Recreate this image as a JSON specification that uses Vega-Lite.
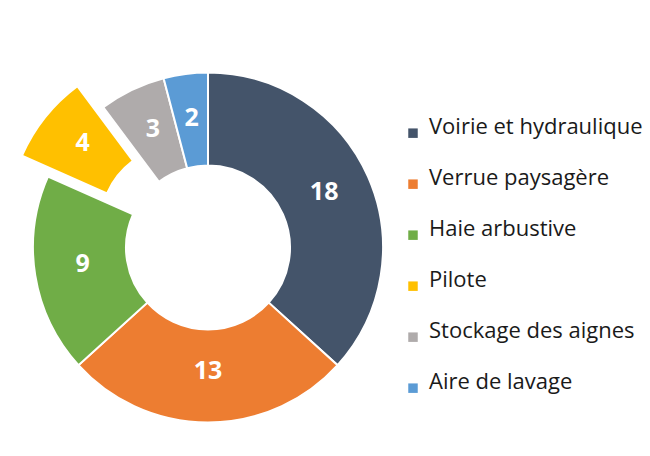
{
  "$schema": "https://vega.github.io/schema/vega-lite/v6.json",
  "width": 416,
  "height": 417,
  "padding": {"left": 0, "top": 39, "right": 0, "bottom": 0},
  "autosize": {"type": "pad"},
  "background": "white",
  "config": {"view": {"stroke": null}},
  "data": {
    "values": [
      {"cat": "Voirie et hydraulique", "val": 18, "ord": 1},
      {"cat": "Verrue paysagère", "val": 13, "ord": 2},
      {"cat": "Haie arbustive", "val": 9, "ord": 3},
      {"cat": "Pilote", "val": 4, "ord": 4},
      {"cat": "Stockage des aignes", "val": 3, "ord": 5},
      {"cat": "Aire de lavage", "val": 2, "ord": 6}
    ]
  },
  "encoding": {
    "theta": {"field": "val", "type": "quantitative", "stack": true},
    "order": {"field": "ord", "type": "quantitative"},
    "detail": {"field": "cat", "type": "nominal"}
  },
  "layer": [
    {
      "mark": {"type": "arc", "radius": 175, "radius2": 82, "stroke": "white", "strokeWidth": 2},
      "encoding": {
        "color": {
          "field": "cat",
          "type": "nominal",
          "scale": {
            "domain": ["Voirie et hydraulique", "Verrue paysagère", "Haie arbustive", "Pilote", "Stockage des aignes", "Aire de lavage"],
            "range": ["#44546A", "#ED7D31", "#70AD47", "#FFC000", "#AFABAB", "#5B9BD5"]
          },
          "legend": {
            "orient": "none",
            "legendX": 402,
            "legendY": 77,
            "title": null,
            "symbolType": "M-1,0.3H1V2.3H-1Z",
            "symbolSize": 90,
            "symbolStrokeWidth": 0,
            "labelFont": "Open Sans",
            "labelFontSize": 22,
            "labelColor": "#1a1a1a",
            "labelOffset": 5,
            "rowPadding": 29,
            "labelLimit": 400
          }
        },
        "opacity": {"condition": {"test": "datum.cat === 'Pilote'", "value": 0}, "value": 1}
      }
    },
    {
      "mark": {"type": "arc", "radius": 175, "radius2": 82, "stroke": "white", "strokeWidth": 2, "xOffset": -26, "yOffset": -21},
      "encoding": {
        "color": {
          "field": "cat",
          "type": "nominal",
          "scale": {
            "domain": ["Voirie et hydraulique", "Verrue paysagère", "Haie arbustive", "Pilote", "Stockage des aignes", "Aire de lavage"],
            "range": ["#44546A", "#ED7D31", "#70AD47", "#FFC000", "#AFABAB", "#5B9BD5"]
          },
          "legend": null
        },
        "opacity": {"condition": {"test": "datum.cat === 'Pilote'", "value": 1}, "value": 0}
      }
    },
    {
      "mark": {"type": "text", "radius": 127, "fill": "white", "font": "Open Sans", "fontSize": 25, "fontWeight": "bold", "baseline": "middle", "align": "center", "dy": -4},
      "encoding": {
        "text": {"field": "val", "type": "quantitative"},
        "opacity": {"condition": {"test": "datum.cat === 'Pilote'", "value": 0}, "value": 1}
      }
    },
    {
      "mark": {"type": "text", "radius": 127, "fill": "white", "font": "Open Sans", "fontSize": 25, "fontWeight": "bold", "baseline": "middle", "align": "center", "dy": -4, "xOffset": -26, "yOffset": -21},
      "encoding": {
        "text": {"field": "val", "type": "quantitative"},
        "opacity": {"condition": {"test": "datum.cat === 'Pilote'", "value": 1}, "value": 0}
      }
    }
  ]
}
